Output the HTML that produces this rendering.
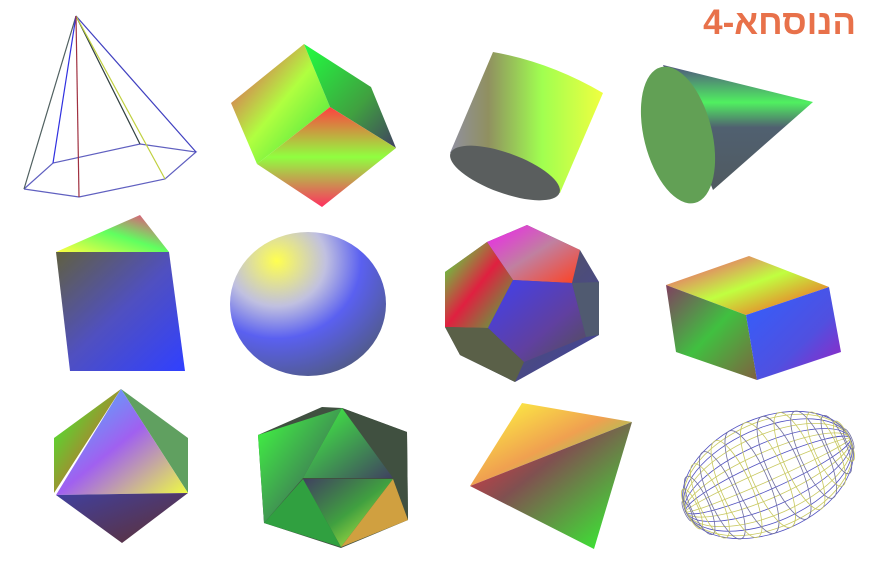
<!DOCTYPE html>
<html><head><meta charset="utf-8">
<style>
html,body{margin:0;padding:0;background:#fff;}
#wrap{position:relative;width:875px;height:570px;overflow:hidden;}
#title{position:absolute;left:680px;top:3px;width:176px;text-align:right;direction:rtl;font-family:"Liberation Sans","DejaVu Sans",sans-serif;font-weight:bold;font-size:35px;color:#e8714a;}
</style></head>
<body>
<div id="wrap">
<div id="title">הנוסחא-4</div>
<svg width="875" height="570" viewBox="0 0 875 570">
<defs>
<linearGradient id="g1" x1="0" y1="0" x2="1" y2="1"><stop offset="0" stop-color="#f03060"/><stop offset="0.5" stop-color="#b0ff40"/><stop offset="1" stop-color="#30e040"/></linearGradient>
<linearGradient id="g2" x1="0" y1="0" x2="1" y2="1"><stop offset="0" stop-color="#20ff40"/><stop offset="0.6" stop-color="#40a040"/><stop offset="1" stop-color="#404060"/></linearGradient>
<linearGradient id="g3" x1="0" y1="0" x2="0" y2="1"><stop offset="0" stop-color="#ff4040"/><stop offset="0.5" stop-color="#90ff40"/><stop offset="1" stop-color="#ff3060"/></linearGradient>
<linearGradient id="cyl" x1="0" y1="0" x2="1" y2="0"><stop offset="0" stop-color="#9090a0"/><stop offset="0.25" stop-color="#909060"/><stop offset="0.6" stop-color="#a0ff50"/><stop offset="1" stop-color="#f0ff40"/></linearGradient>
<linearGradient id="cone" x1="0" y1="0" x2="0" y2="1"><stop offset="0" stop-color="#505080"/><stop offset="0.3" stop-color="#50f060"/><stop offset="0.5" stop-color="#506070"/><stop offset="1" stop-color="#505a60"/></linearGradient>
<linearGradient id="pr1" x1="0" y1="0" x2="1" y2="1"><stop offset="0" stop-color="#606040"/><stop offset="0.5" stop-color="#5050c0"/><stop offset="1" stop-color="#3040ff"/></linearGradient>
<linearGradient id="pr2" x1="0" y1="1" x2="1" y2="0"><stop offset="0" stop-color="#ffff40"/><stop offset="0.5" stop-color="#60ff60"/><stop offset="1" stop-color="#ff3080"/></linearGradient>
<radialGradient id="sph" cx="0.3" cy="0.2" r="0.9"><stop offset="0" stop-color="#ffff50"/><stop offset="0.35" stop-color="#c0c0e0"/><stop offset="0.6" stop-color="#5a60f0"/><stop offset="1" stop-color="#505a80"/></radialGradient>
<linearGradient id="d1" x1="0" y1="0" x2="1" y2="1"><stop offset="0" stop-color="#f020f0"/><stop offset="0.5" stop-color="#c080a0"/><stop offset="1" stop-color="#ff4020"/></linearGradient>
<linearGradient id="d2" x1="0" y1="0" x2="1" y2="1"><stop offset="0" stop-color="#4040f0"/><stop offset="0.6" stop-color="#6040a0"/><stop offset="1" stop-color="#505050"/></linearGradient>
<linearGradient id="d3" x1="0" y1="0" x2="1" y2="1"><stop offset="0" stop-color="#40ff40"/><stop offset="0.5" stop-color="#e02040"/><stop offset="1" stop-color="#40c040"/></linearGradient>
<linearGradient id="d4" x1="0" y1="0" x2="1" y2="1"><stop offset="0" stop-color="#606040"/><stop offset="1" stop-color="#4040a0"/></linearGradient>
<linearGradient id="b1" x1="0" y1="0" x2="1" y2="1"><stop offset="0" stop-color="#ff3080"/><stop offset="0.5" stop-color="#c0ff40"/><stop offset="1" stop-color="#ff4020"/></linearGradient>
<linearGradient id="b2" x1="0" y1="0" x2="1" y2="1"><stop offset="0" stop-color="#804060"/><stop offset="0.5" stop-color="#40c040"/><stop offset="1" stop-color="#806040"/></linearGradient>
<linearGradient id="b3" x1="0" y1="0" x2="1" y2="1"><stop offset="0" stop-color="#3060ff"/><stop offset="0.6" stop-color="#5050e0"/><stop offset="1" stop-color="#a020c0"/></linearGradient>
<linearGradient id="o1" x1="0" y1="0" x2="1" y2="1"><stop offset="0" stop-color="#40c0ff"/><stop offset="0.5" stop-color="#a060f0"/><stop offset="1" stop-color="#f0ff40"/></linearGradient>
<linearGradient id="o2" x1="0" y1="0" x2="1" y2="1"><stop offset="0" stop-color="#4040a0"/><stop offset="1" stop-color="#603030"/></linearGradient>
<linearGradient id="o3" x1="0" y1="0" x2="1" y2="1"><stop offset="0" stop-color="#30ff30"/><stop offset="1" stop-color="#ff3030"/></linearGradient>
<linearGradient id="i1" x1="0" y1="0" x2="1" y2="1"><stop offset="0" stop-color="#40ff40"/><stop offset="1" stop-color="#404060"/></linearGradient>
<linearGradient id="i2" x1="0" y1="0" x2="1" y2="1"><stop offset="0" stop-color="#404060"/><stop offset="0.5" stop-color="#40a040"/><stop offset="1" stop-color="#e0ff40"/></linearGradient>
<linearGradient id="t1" x1="0" y1="0" x2="1" y2="1"><stop offset="0" stop-color="#ffff40"/><stop offset="0.5" stop-color="#f0a050"/><stop offset="1" stop-color="#30ff60"/></linearGradient>
<linearGradient id="t2" x1="0" y1="0" x2="1" y2="1"><stop offset="0" stop-color="#ff3040"/><stop offset="0.4" stop-color="#805050"/><stop offset="1" stop-color="#30ff30"/></linearGradient>
</defs>

<g fill="none" stroke-width="1.2">
<polyline points="24,189 53,163 140,144 196,152 165,179 79,197 24,189" stroke="#6060c0"/>
<line x1="76" y1="16" x2="24" y2="189" stroke="#506060"/>
<line x1="76" y1="16" x2="53" y2="163" stroke="#3030e0"/>
<line x1="76" y1="16" x2="140" y2="144" stroke="#304040"/>
<line x1="76" y1="16" x2="196" y2="152" stroke="#4040c0"/>
<line x1="76" y1="16" x2="165" y2="179" stroke="#c0d040"/>
<line x1="76" y1="16" x2="79" y2="197" stroke="#a03040"/>
</g>

<g>
<polygon points="304,44 330,107 257,164 231,103" fill="url(#g1)"/>
<polygon points="304,44 371,87 396,148 330,107" fill="url(#g2)"/>
<polygon points="330,107 396,148 322,207 257,164" fill="url(#g3)"/>
</g>

<g>
<path d="M493,52 Q550,62 603,93 L560,193 L450,153 Z" fill="url(#cyl)"/>
<ellipse cx="505" cy="173" rx="58" ry="20" transform="rotate(20 505 173)" fill="#5a5e5e"/>
</g>

<g>
<polygon points="663,65 813,102 713,190" fill="url(#cone)"/>
<ellipse cx="678" cy="135" rx="34" ry="70" transform="rotate(-14 678 135)" fill="#62a055"/>
</g>

<g>
<polygon points="56,252 169,252 185,371 70,371" fill="url(#pr1)"/>
<polygon points="140,215 56,252 169,252" fill="url(#pr2)"/>
</g>

<ellipse cx="308" cy="304" rx="78" ry="72" fill="url(#sph)"/>

<g>
<polygon points="527,225 580,250 599,282 599,335 524,377 515,382 460,355 445,327 445,272 487,242" fill="url(#d4)"/>
<polygon points="487,242 527,225 580,250 572,283 513,280" fill="url(#d1)"/>
<polygon points="445,272 487,242 513,280 488,328 445,327" fill="url(#d3)"/>
<polygon points="513,280 572,283 586,337 524,362 488,328" fill="url(#d2)"/>
<polygon points="572,283 599,282 599,335 586,337" fill="#505a70"/>
<polygon points="488,328 524,362 515,382 460,355 445,327" fill="#5a6048"/>
</g>

<g>
<polygon points="749,256 829,287 746,315 666,285" fill="url(#b1)"/>
<polygon points="666,285 746,315 757,380 676,352" fill="url(#b2)"/>
<polygon points="746,315 829,287 841,352 757,380" fill="url(#b3)"/>
</g>

<g>
<polygon points="121,389 54,438 54,493" fill="url(#o3)"/>
<polygon points="121,389 188,438 188,493" fill="#60a060"/>
<polygon points="121,389 56,495 188,493" fill="url(#o1)"/>
<polygon points="56,495 188,493 122,543" fill="url(#o2)"/>
</g>

<g>
<polygon points="322,407 342,408 407,432 408,520 341,548 264,523 258,435" fill="#405040"/>
<polygon points="258,435 342,408 303,478 264,523" fill="url(#i1)"/>
<polygon points="342,408 407,432 408,520 393,478" fill="#405040"/>
<polygon points="342,408 303,478 393,478" fill="url(#i1)"/>
<polygon points="303,479 393,479 341,547" fill="url(#i2)"/>
<polygon points="264,523 303,479 341,547" fill="#30a040"/>
<polygon points="393,479 408,520 341,547" fill="#d0a040"/>
</g>

<g>
<polygon points="522,403 632,422 470,486" fill="url(#t1)"/>
<polygon points="470,486 632,422 594,549" fill="url(#t2)"/>
</g>

<g id="ellip" transform="translate(768 475) rotate(-24)" fill="none" stroke-width="0.8"></g>
</svg>
</div>
<script>
var g=document.getElementById('ellip');
var NS='http://www.w3.org/2000/svg';
var RX=90, RY=57;
[0.1,0.25,0.4,0.55,0.7,0.82,0.93,1].forEach(function(k,i){
  var e=document.createElementNS(NS,'ellipse');
  
  
  e.setAttribute('cx',0);e.setAttribute('cy',0);
  e.setAttribute('rx',RX);e.setAttribute('ry',RY*k);
  e.setAttribute('stroke',i%2?'#5050c0':'#c8c860');
  g.appendChild(e);
});
for(var j=1;j<16;j++){
  var phi=Math.PI*j/16;
  var e=document.createElementNS(NS,'ellipse');
  
  
  e.setAttribute('cx',-RX*Math.cos(phi));e.setAttribute('cy',0);
  e.setAttribute('rx',RX*0.18*Math.sin(phi));e.setAttribute('ry',RY*Math.sin(phi));
  e.setAttribute('stroke',j%2?'#7070a0':'#c8c860');
  g.appendChild(e);
}
</script>
</body></html>
